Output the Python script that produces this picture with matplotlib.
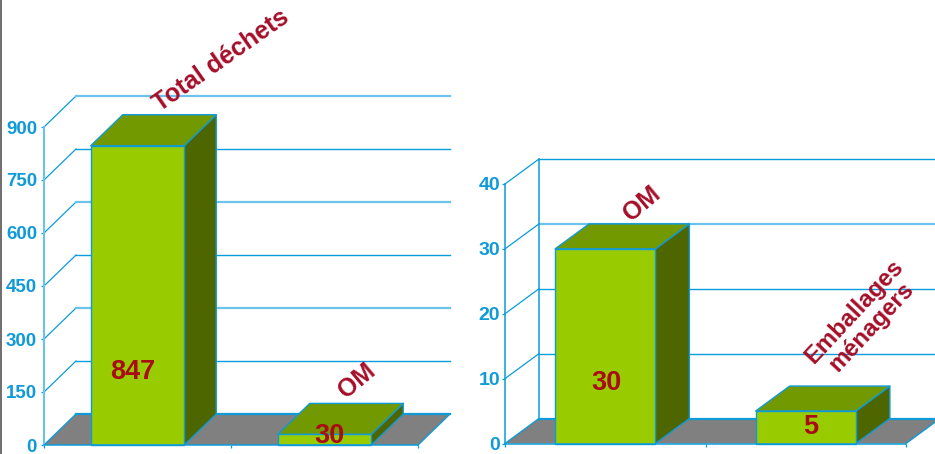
import matplotlib
matplotlib.use("Agg")
import matplotlib.pyplot as plt
from matplotlib.patches import Polygon
from matplotlib.lines import Line2D

W, H = 935, 454

# ---- data
left_categories = ["Total déchets", "OM"]
left_values = [847, 30]
left_ticks = [0, 150, 300, 450, 600, 750, 900]
right_categories = ["OM", "Emballages\nménagers"]
right_values = [30, 5]
right_ticks = [0, 10, 20, 30, 40]

# ---- style
FRONT, TOP, SIDE = "#99CC00", "#739900", "#4D6600"
EDGE, GRID, LIGHT = "#0F9AD8", "#0A9CDC", "#6CC3EA"
FLOOR = "#808080"
RED_VAL, RED_LAB = "#A80C14", "#A50E28"
SANS = ["Liberation Sans", "DejaVu Sans"]

fig = plt.figure(figsize=(W / 100, H / 100), dpi=100, facecolor="white")
fig.add_artist(Line2D([0.6 / W, 0.6 / W], [1, 0], color="#555555", lw=1.2))


def chart(cats, vals, ticks, box, depth, bar_w, tick_size, back_wall, light_ticks,
          val_off, lab_off, lab_rot, lab_size, pad):
    x0, x1, ytop, ybot = box
    ax = fig.add_axes([x0 / W, 1 - ybot / H, (x1 - x0) / W, (ybot - ytop) / H])
    ax.patch.set_visible(False)
    n = len(cats)
    ymax = ticks[-1]
    ax.set_xlim(0, n)
    ax.set_ylim(0, ymax)
    dx = depth[0] / ((x1 - x0) / n)
    dy = depth[1] / ((ybot - ytop) / ymax)
    xend = n + dx

    # floor
    ax.add_patch(Polygon([(0, 0), (n, 0), (xend, dy), (dx, dy)], closed=True,
                         fc=FLOOR, ec="none", zorder=1, clip_on=False))
    ax.plot([0, dx], [0, dy], color=EDGE, lw=1, zorder=1.5, clip_on=False)
    ax.plot([dx, xend], [dy, dy], color=EDGE, lw=1.6, zorder=1.5, clip_on=False)
    ax.plot([n, xend], [0, dy], color=EDGE, lw=1, zorder=1.5, clip_on=False)

    # grid
    for t in ticks[1:]:
        light = t in light_ticks
        ax.plot([0, dx], [t, t + dy], color=GRID, lw=0.9, zorder=2, clip_on=False)
        ax.plot([dx, xend], [t + dy, t + dy], color=LIGHT if light else GRID,
                lw=1.6 if light else 1.0, zorder=2, clip_on=False)
    if back_wall:
        ax.plot([dx, dx], [dy, ymax + dy], color=GRID, lw=1.1, zorder=2, clip_on=False)

    # bars
    for i, v in enumerate(vals):
        l = i + 0.5 - bar_w / 2
        r = i + 0.5 + bar_w / 2
        kw = dict(ec=EDGE, lw=1.0, joinstyle="round", clip_on=False, zorder=3)
        ax.add_patch(Polygon([(r, 0), (r + dx, dy), (r + dx, v + dy), (r, v)], fc=SIDE, **kw))
        ax.add_patch(Polygon([(l, v), (r, v), (r + dx, v + dy), (l + dx, v + dy)], fc=TOP, **kw))
        ax.add_patch(Polygon([(l, 0), (r, 0), (r, v), (l, v)], fc=FRONT, **kw))
        ax.annotate(str(v), xy=(i + 0.5, v), xytext=val_off[i], textcoords="offset pixels",
                    ha="center", va="center", color=RED_VAL, fontsize=19.5, fontweight="bold",
                    family=SANS, zorder=5, annotation_clip=False)
        ax.annotate(cats[i], xy=(i + 0.5, v), xytext=lab_off[i], textcoords="offset pixels",
                    ha="center", va="center", rotation=lab_rot[i], rotation_mode="anchor",
                    multialignment="center", linespacing=1.0, color=RED_LAB,
                    fontsize=lab_size[i], fontweight="bold", family=SANS, zorder=5,
                    annotation_clip=False)

    # axes
    for s in ("top", "right"):
        ax.spines[s].set_visible(False)
    ax.spines["left"].set_color(LIGHT if not back_wall else GRID)
    ax.spines["left"].set_linewidth(1.5 if not back_wall else 1.1)
    ax.spines["bottom"].set_color(GRID)
    ax.spines["bottom"].set_linewidth(1.1)
    ax.spines["left"].set_zorder(2.5)
    ax.spines["bottom"].set_zorder(3.5)
    ax.set_xticks(range(n + 1))
    ax.set_xticklabels([])
    ax.set_yticks(ticks)
    ax.set_yticklabels([str(t) for t in ticks], family=SANS, fontweight="bold",
                        fontsize=tick_size, color="#0F9AD8")
    ax.tick_params(axis="x", direction="out", length=2.5, width=0.9, color=GRID)
    ax.tick_params(axis="y", direction="out", length=2.5, width=0.9, color=GRID, pad=pad)
    return ax


chart(left_categories, left_values, left_ticks, (44, 418, 127, 445), (32, 31), 0.5,
      13.5, False, [300, 600, 900],
      val_off=[(-4.5, -226), (5, -2)],
      lab_off=[(84, 85), (32, 54)], lab_rot=[35, 40], lab_size=[18, 18], pad=2.5)
chart(right_categories, right_values, right_ticks, (505, 906, 184, 443.5), (34, 25), 0.5,
      14, True, [30],
      val_off=[(1.5, -134), (5, -16)],
      lab_off=[(37, 45), (57, 92)], lab_rot=[40, 47], lab_size=[18, 17.2], pad=1)

fig.savefig("out.png", dpi=100)
